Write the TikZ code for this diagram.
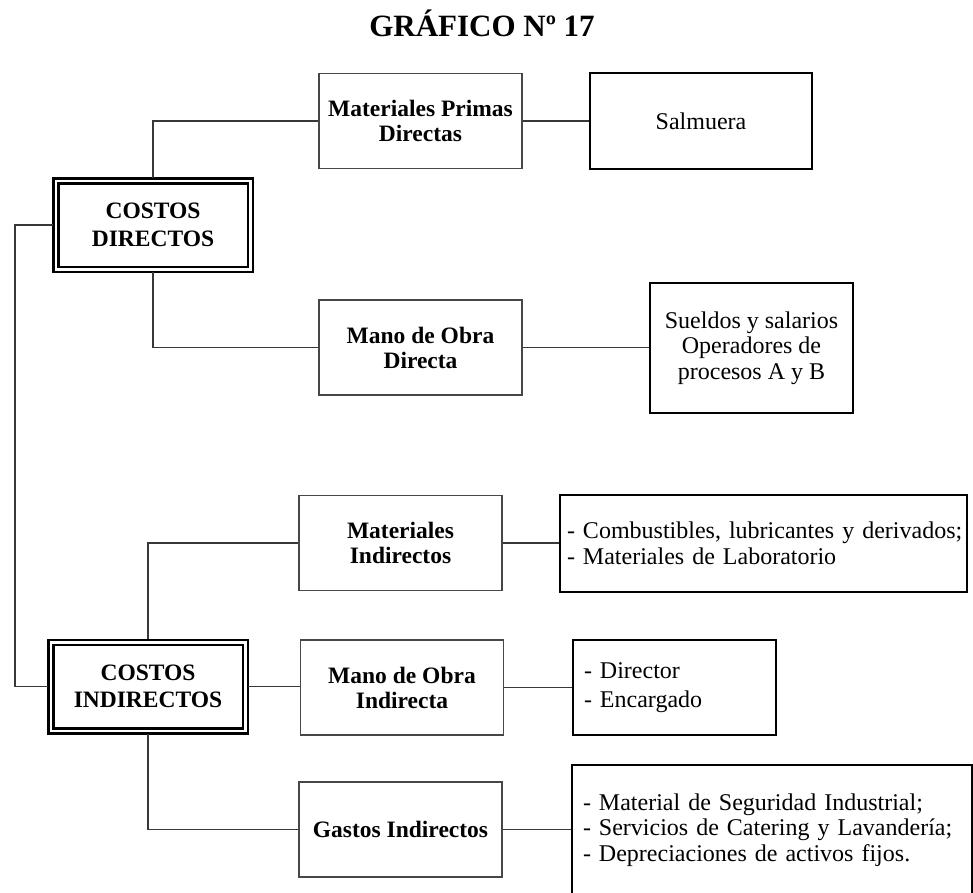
\documentclass[tikz,border=0pt]{standalone}
\usepackage{fontspec}
\setmainfont{Liberation Serif}
\begin{document}
\begin{tikzpicture}[x=1pt,y=-1pt,
  every node/.style={font=\fontsize{24}{25.5}\selectfont},
  catbox/.style={draw=black, line width=2.5pt, double=white, double distance=2.5pt,
    minimum width=194.5pt, minimum height=88.5pt, inner sep=0pt, outer sep=3pt,
    align=center, font=\bfseries\fontsize{23.5}{27.5}\selectfont},
  midbox/.style={draw=black!72, line width=1.6pt, minimum width=203pt, minimum height=95pt,
    inner sep=0pt, align=center, font=\bfseries\fontsize{23.5}{25}\selectfont},
  leafbox/.style={draw=black, line width=1.9pt, inner sep=0pt, align=center},
  listbox/.style={draw=black, line width=1.9pt, inner ysep=0pt, align=left},
  link/.style={draw=black!78, line width=1.5pt}]
\useasboundingbox (0,0) rectangle (973,892);

% heading
\node[anchor=base, font=\bfseries\fontsize{31}{31}\selectfont] (title) at (482,36) {GRÁFICO Nº 17};

% main cost groups
\node[catbox] (cd) at (153,225) {COSTOS\\DIRECTOS};
\node[catbox] (ci) at (148,686.5) {COSTOS\\INDIRECTOS};

% cost elements
\node[midbox] (mpd) at (420.5,121)   {Materiales Primas\\Directas};
\node[midbox] (mod) at (420.5,347.5) {Mano de Obra\\Directa};
\node[midbox] (mi)  at (400.5,543)   {Materiales\\Indirectos};
\node[midbox] (moi) at (402,687.5)   {Mano de Obra\\Indirecta};
\node[midbox] (gi)  at (400.5,829.5) {Gastos Indirectos};

% details
\node[leafbox, minimum width=222pt, minimum height=96pt] (salm) at (701,121) {Salmuera};
\node[leafbox, minimum width=203pt, minimum height=130pt] (sue) at (751.5,348)
  {Sueldos y salarios\\Operadores de\\procesos A y B};
\node[listbox, text width=393pt, inner xsep=7pt, minimum height=97pt] (comb) at (763.5,543.5)
  {\mbox{- Combustibles, lubricantes y derivados;}\\\mbox{- Materiales de Laboratorio}};
\node[listbox, text width=181pt, inner xsep=11pt, minimum height=95pt,
  font=\fontsize{24}{29}\selectfont] (dir) at (674.5,687.5)
  {\mbox{- Director}\\\mbox{- Encargado}\\[6pt]};
\node[listbox, text width=378pt, inner xsep=11pt, minimum height=130pt] (dep) at (772,830)
  {\mbox{- Material de Seguridad Industrial;}\\\mbox{- Servicios de Catering y Lavandería;}\\\mbox{- Depreciaciones de activos fijos.}\\[4pt]};

% connectors
\coordinate (trunk) at (15,225);
\draw[link] (cd.north) |- (mpd.west);
\draw[link] (mpd.east) -- (salm.west);
\draw[link] (cd.south) |- (mod.west);
\draw[link] (mod.east) -- (mod.east -| sue.west);
\draw[link] (cd.west) -- (trunk) |- (ci.west);
\draw[link] (ci.north) |- (mi.west);
\draw[link] (mi.east) -- (mi.east -| comb.west);
\draw[link] (ci.east) -- (ci.east -| moi.west);
\draw[link] (moi.east) -- (dir.west);
\draw[link] (ci.south) |- (gi.west);
\draw[link] (gi.east) -- (gi.east -| dep.west);
\end{tikzpicture}
\end{document}
